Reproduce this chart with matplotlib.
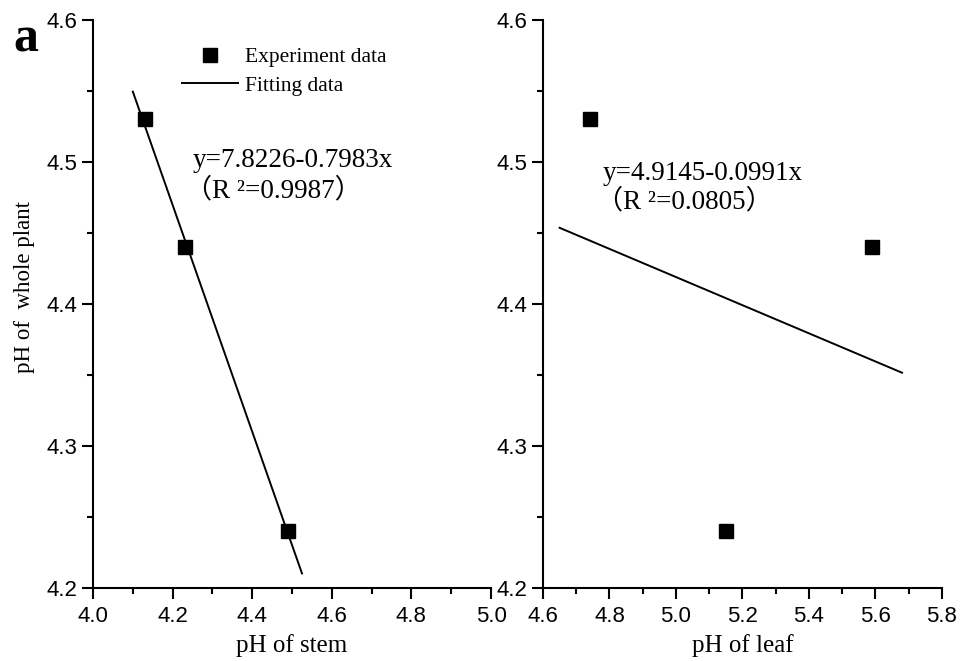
import matplotlib
matplotlib.use("Agg")
import matplotlib.pyplot as plt
from matplotlib.ticker import MultipleLocator, FormatStrFormatter
from matplotlib.lines import Line2D

# data
whole_plant = [4.53, 4.44, 4.24]
stem = [4.13, 4.23, 4.49]
leaf = [4.74, 5.59, 5.15]

# fitted lines (intercept, slope) and drawn x-range
stem_fit = (7.8226, -0.7983)
stem_fit_x = [4.10, 4.525]
leaf_fit = (4.9145, -0.0991)
leaf_fit_x = [4.65, 5.68]

stem_eq = "y=7.8226-0.7983x"
stem_r2 = "（R ²=0.9987）"
leaf_eq = "y=4.9145-0.0991x"
leaf_r2 = "（R ²=0.0805）"

serif = ["Liberation Serif", "Noto Sans CJK SC"]
sans = "Liberation Sans"

fig = plt.figure(figsize=(9.6, 6.61), dpi=100)
ax1 = fig.add_axes([0.0969, 0.1104, 0.4146, 0.8593])
ax2 = fig.add_axes([0.5656, 0.1104, 0.4156, 0.8593])


def style_axis(ax, xlim):
    ax.set_xlim(*xlim)
    ax.set_ylim(4.2, 4.6)
    for s in ["top", "right"]:
        ax.spines[s].set_visible(False)
    for s in ["left", "bottom"]:
        ax.spines[s].set_linewidth(1.5)
    ax.xaxis.set_major_locator(MultipleLocator(0.2))
    ax.xaxis.set_minor_locator(MultipleLocator(0.1))
    ax.yaxis.set_major_locator(MultipleLocator(0.1))
    ax.yaxis.set_minor_locator(MultipleLocator(0.05))
    ax.xaxis.set_major_formatter(FormatStrFormatter("%.1f"))
    ax.yaxis.set_major_formatter(FormatStrFormatter("%.1f"))
    ax.tick_params(which="major", direction="out", length=8, width=1.5,
                   labelsize=16, pad=3)
    ax.tick_params(axis="x", which="major", pad=5)
    ax.tick_params(which="minor", direction="out", length=4.5, width=1.5)
    for lab in ax.get_xticklabels() + ax.get_yticklabels():
        lab.set_family(sans)


style_axis(ax1, (4.0, 5.0))
style_axis(ax2, (4.6, 5.8))

# left panel
ax1.plot(stem, whole_plant, "s", color="black", markersize=10.5, clip_on=False)
ax1.plot(stem_fit_x, [stem_fit[0] + stem_fit[1] * x for x in stem_fit_x],
         color="black", lw=1.4)
ax1.text(4.25, 4.501, stem_eq, family=serif, fontsize=19.5, va="center")
ax1.text(4.232, 4.480, stem_r2, family=serif, fontsize=19.5, va="center")
ax1.set_xlabel("pH of stem", family=serif, fontsize=18, labelpad=5)
ax1.set_ylabel("pH of  whole plant", family=serif, fontsize=16.5)
ax1.yaxis.set_label_coords(-0.145, 0.53)

handles = [Line2D([], [], ls="none", marker="s", color="black", markersize=10.5),
           Line2D([], [], color="black", lw=1.4)]
ax1.legend(handles, ["Experiment data", "Fitting data"], loc="upper left",
           bbox_to_anchor=(0.224, 0.952), frameon=False, borderpad=0,
           borderaxespad=0, handlelength=2.6, handletextpad=0.3,
           labelspacing=0.38, prop={"family": serif, "size": 15.5})

# right panel
ax2.plot(leaf, whole_plant, "s", color="black", markersize=10.5, clip_on=False)
ax2.plot(leaf_fit_x, [leaf_fit[0] + leaf_fit[1] * x for x in leaf_fit_x],
         color="black", lw=1.4)
ax2.text(4.778, 4.492, leaf_eq, family=serif, fontsize=19.5, va="center")
ax2.text(4.758, 4.472, leaf_r2, family=serif, fontsize=19.5, va="center")
ax2.set_xlabel("pH of leaf", family=serif, fontsize=18, labelpad=5)

fig.text(0.014, 0.94, "a", family="Liberation Serif", fontweight="bold",
         fontsize=36, va="center")

fig.savefig("out.png", dpi=100)
